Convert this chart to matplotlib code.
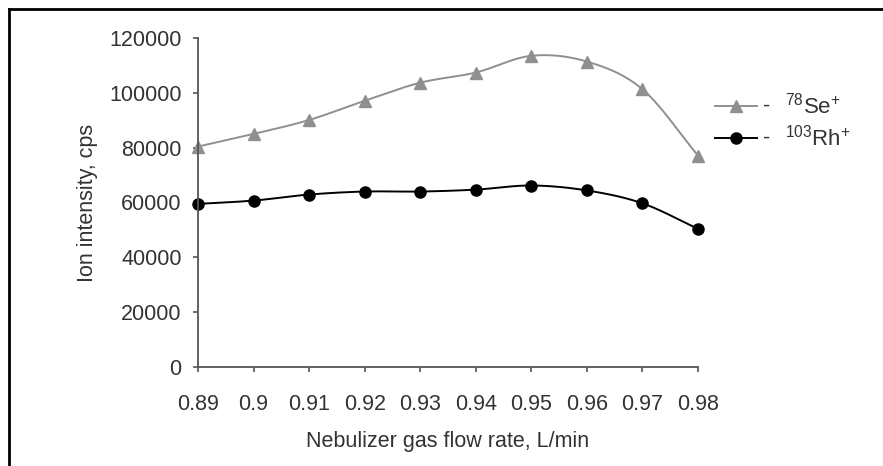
import matplotlib
matplotlib.use("Agg")
import matplotlib.pyplot as plt
import numpy as np

plt.rcParams["font.family"] = ["Liberation Sans", "DejaVu Sans"]
plt.rcParams["mathtext.fontset"] = "custom"
plt.rcParams["mathtext.rm"] = "Liberation Sans"
plt.rcParams["mathtext.it"] = "Liberation Sans"

flow_rate = [0.89, 0.90, 0.91, 0.92, 0.93, 0.94, 0.95, 0.96, 0.97, 0.98]
se78 = [80400, 85000, 90100, 97100, 103700, 107400, 113500, 111400, 101300, 77100]
rh103 = [59500, 60700, 62900, 64000, 64000, 64700, 66200, 64400, 59700, 50400]
x_labels = ["0.89", "0.9", "0.91", "0.92", "0.93", "0.94", "0.95", "0.96", "0.97", "0.98"]
y_ticks = [0, 20000, 40000, 60000, 80000, 100000, 120000]


def smooth(x, y, n=30):
    # Catmull-Rom through the points, like a spreadsheet "smoothed line"
    x = np.asarray(x, float)
    y = np.asarray(y, float)
    px = np.concatenate([[2 * x[0] - x[1]], x, [2 * x[-1] - x[-2]]])
    py = np.concatenate([[2 * y[0] - y[1]], y, [2 * y[-1] - y[-2]]])
    t = np.linspace(0, 1, n)[:, None]
    xs, ys = [], []
    for i in range(1, len(px) - 2):
        for p, out in ((px, xs), (py, ys)):
            p0, p1, p2, p3 = p[i - 1], p[i], p[i + 1], p[i + 2]
            seg = 0.5 * ((2 * p1) + (-p0 + p2) * t
                         + (2 * p0 - 5 * p1 + 4 * p2 - p3) * t ** 2
                         + (-p0 + 3 * p1 - 3 * p2 + p3) * t ** 3)
            out.append(seg.ravel())
    return np.concatenate(xs), np.concatenate(ys)


W, H = 883, 466
fig = plt.figure(figsize=(W / 100, H / 100), dpi=100)
ax = fig.add_axes([198 / W, 1 - 367 / H, 500 / W, 329 / H])

text_color = "#333333"
se_color = "#8f8f8f"
fs = 15.5
sx, sy = smooth(flow_rate, se78)
ax.plot(sx, sy, color=se_color, lw=1.4, clip_on=False)
ax.plot(flow_rate, se78, ls="none", marker="^", ms=8, color=se_color, clip_on=False)

rx, ry = smooth(flow_rate, rh103)
ax.plot(rx, ry, color="black", lw=1.4, clip_on=False)
ax.plot(flow_rate, rh103, ls="none", marker="o", ms=8, color="black", clip_on=False)

ax.set_xlim(0.89, 0.98)
ax.set_ylim(0, 120000)
ax.set_xticks(flow_rate)
ax.set_xticklabels(x_labels)
ax.set_yticks(y_ticks)
ax.set_yticklabels([str(v) for v in y_ticks])

for side in ("top", "right"):
    ax.spines[side].set_visible(False)
for side in ("left", "bottom"):
    ax.spines[side].set_color("#555555")
    ax.spines[side].set_linewidth(1.3)
ax.tick_params(direction="out", length=3.8, width=1.2, color="#555555",
               labelsize=fs, labelcolor=text_color)
ax.tick_params(axis="y", pad=8)
ax.tick_params(axis="x", pad=16)

fig.text(448 / W, 1 - 442 / H, "Nebulizer gas flow rate, L/min", fontsize=fs,
         color=text_color, ha="center", va="center")
fig.text(88 / W, 1 - 203 / H, "Ion intensity, cps", fontsize=fs,
         color=text_color, ha="center", va="center", rotation=90)

# legend, drawn by hand to keep the "-" separator
lx0, lx1 = 715 / W, 757 / W
for yy, col, mk, lab in ((1 - 106 / H, se_color, "^", r"$^{78}$Se$^{+}$"),
                          (1 - 138 / H, "black", "o", r"$^{103}$Rh$^{+}$")):
    fig.add_artist(plt.Line2D([lx0, lx1], [yy, yy], color=col, lw=1.4))
    fig.add_artist(plt.Line2D([736 / W], [yy], color=col, marker=mk, ms=8, ls="none"))
    fig.text(767 / W, yy, "-", fontsize=fs, color=text_color, va="center", ha="center")
    fig.text(785 / W, yy, lab, fontsize=16, color=text_color, va="center")

# frame lines along top and left of the page
fig.add_artist(plt.Line2D([8.5 / W, 1], [1 - 8.5 / H] * 2, color="black", lw=2))
fig.add_artist(plt.Line2D([8.5 / W] * 2, [0, 1 - 8.5 / H], color="black", lw=2))

fig.savefig("out.png", dpi=100)
